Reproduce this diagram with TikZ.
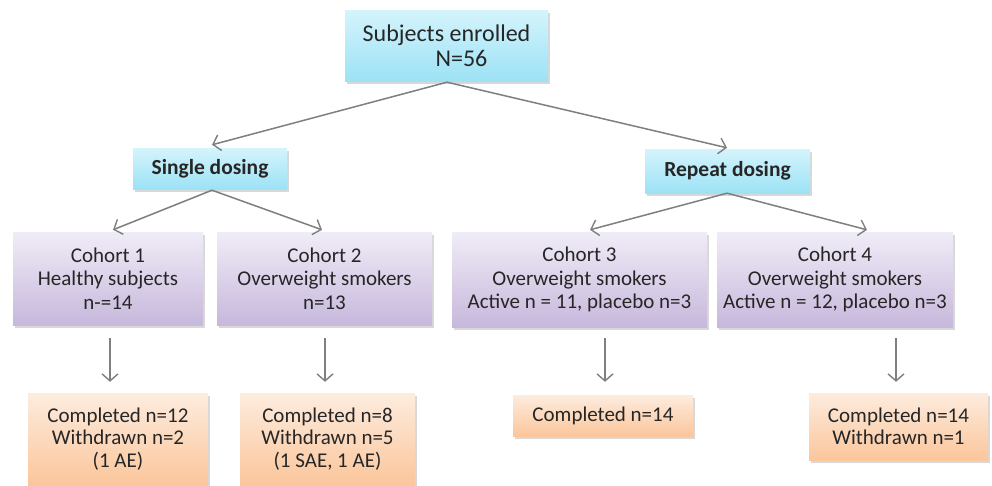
\documentclass[tikz,border=0pt]{standalone}
\usepackage{fontspec}
\setmainfont{Carlito}
\usetikzlibrary{arrows.meta,shadows}
\definecolor{cyanT}{HTML}{D4F4FC}
\definecolor{cyanB}{HTML}{9CE2F5}
\definecolor{purT}{HTML}{F0ECF7}
\definecolor{purB}{HTML}{C7B8DC}
\definecolor{orT}{HTML}{FDECDE}
\definecolor{orB}{HTML}{FBC69B}
\definecolor{txt}{HTML}{262626}
\definecolor{lin}{HTML}{7F7F7F}
\tikzset{
  box/.style={draw=none, align=center, text=txt, inner sep=0pt,
    drop shadow={shadow xshift=1.5pt, shadow yshift=-2.5pt, opacity=0.25, fill=black!60}},
  cyanbox/.style={box, top color=cyanT, bottom color=cyanB},
  purbox/.style={box, top color=purT, bottom color=purB, font=\fontsize{21}{23.5}\selectfont},
  orbox/.style={box, top color=orT, bottom color=orB, font=\fontsize{21}{22.5}\selectfont},
  arr/.style={draw=lin, line width=1.5pt, -{Straight Barb[length=7pt,width=16pt,line width=1.4pt]}}
}
\begin{document}
\begin{tikzpicture}[x=1pt,y=-1pt]
\useasboundingbox[fill=white] (0,0) rectangle (992,485);
% top
\node[cyanbox, minimum width=203pt, minimum height=71pt, font=\fontsize{24}{25}\selectfont] (top) at (446.5,45.5) {Subjects enrolled\\\hspace*{30pt}N=56};
\node[cyanbox, minimum width=154pt, minimum height=41pt, font=\fontsize{21.5}{24}\selectfont\bfseries] (single) at (210,168.5) {Single dosing};
\node[cyanbox, minimum width=165pt, minimum height=44pt, font=\fontsize{21.5}{24}\selectfont\bfseries] (repeat) at (727.5,171) {Repeat dosing};
% cohorts
\node[purbox, minimum width=190pt, minimum height=93pt] (c1) at (108,278.5) {Cohort 1\\Healthy subjects\\n-=14};
\node[purbox, minimum width=215pt, minimum height=93pt] (c2) at (324.5,278.5) {Cohort 2\\Overweight smokers\\n=13};
\node[purbox, minimum width=255pt, minimum height=95pt] (c3) at (579.5,279.5) {Cohort 3\\Overweight smokers\\Active n = 11, placebo n=3};
\node[purbox, minimum width=236pt, minimum height=95pt] (c4) at (835,279.5) {Cohort 4\\Overweight smokers\\Active n = 12, placebo n=3};
% results
\node[orbox, minimum width=180pt, minimum height=92pt] (r1) at (118,439) {Completed n=12\\Withdrawn n=2\\(1 AE)};
\node[orbox, minimum width=175pt, minimum height=92pt] (r2) at (327.5,439) {Completed n=8\\Withdrawn n=5\\(1 SAE, 1 AE)};
\node[orbox, minimum width=180pt, minimum height=41pt] (r3) at (603,415.5) {Completed n=14};
\node[orbox, minimum width=179pt, minimum height=67pt] (r4) at (898.5,426.5) {Completed n=14\\Withdrawn n=1};
% arrows
\draw[arr] ([shift={(0.5,1)}]top.south) -- ([shift={(2,-3)}]single.north);
\draw[arr] ([shift={(0.5,1)}]top.south) -- ([shift={(-0.5,-1)}]repeat.north);
\draw[arr] ([shift={(2,1)}]single.south) -- ([shift={(5,-2)}]c1.north);
\draw[arr] ([shift={(2,1)}]single.south) -- ([shift={(-2.5,-2)}]c2.north);
\draw[arr] ([shift={(-0.5,0)}]repeat.south) -- ([shift={(10.5,-2)}]c3.north);
\draw[arr] ([shift={(-0.5,0)}]repeat.south) -- ([shift={(32,-2)}]c4.north);
\draw[arr] ([shift={(2,13)}]c1.south) -- ([shift={(-8,-11)}]r1.north);
\draw[arr] ([shift={(0.5,13)}]c2.south) -- ([shift={(-2.5,-11)}]r2.north);
\draw[arr] ([shift={(25.5,11)}]c3.south) -- ([shift={(2,-13)}]r3.north);
\draw[arr] ([shift={(61,11)}]c4.south) -- ([shift={(-2.5,-11)}]r4.north);
\end{tikzpicture}
\end{document}
